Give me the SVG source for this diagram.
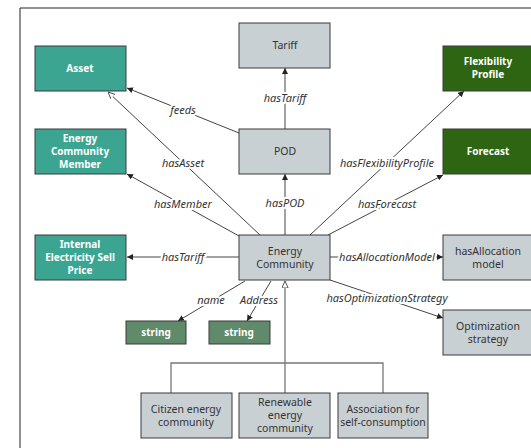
<svg xmlns="http://www.w3.org/2000/svg" width="531" height="448" viewBox="0 0 531 448">
<style>
.n rect{stroke:#3a3a3a;stroke-width:1}
.g rect{fill:#c9d0d3}
.t rect{fill:#3ca592}
.d rect{fill:#2d6512}
.s rect{fill:#5f8b6b}
text{font-family:"Noto Sans","DejaVu Sans",sans-serif;font-size:10.5px;text-anchor:middle}
.g text{fill:#333}
.t text,.d text,.s text{fill:#fff;font-weight:bold;font-size:10px}
.e line{stroke:#444;stroke-width:1}
.h line,.h path{stroke:#777;stroke-width:1.3;fill:none}
.lb{font-style:italic;font-size:11px;fill:#333;stroke:#fff;stroke-width:4;paint-order:stroke;stroke-linejoin:round}
</style>
<defs>
<marker id="a" viewBox="0 0 10 10" refX="10" refY="5" markerWidth="6" markerHeight="6" orient="auto" markerUnits="userSpaceOnUse"><path d="M0,0L10,5L0,10z" fill="#222"/></marker>
<marker id="o" viewBox="0 0 10 10" refX="10" refY="5" markerWidth="7" markerHeight="7" orient="auto" markerUnits="userSpaceOnUse"><path d="M0,0.5L10,5L0,9.5z" fill="#fff" stroke="#444" stroke-width="1.3"/></marker>
</defs>
<rect width="531" height="448" fill="#fff"/>
<path d="M20,448V8H531" fill="none" stroke="#222" stroke-width="1"/>
<g id="connectors">
<g class="h">
<path d="M171,393V363H383V393"/>
<line x1="285" y1="393" x2="285" y2="281" marker-end="url(#o)"/>
</g>
<g class="e">
<line x1="285" y1="129" x2="285" y2="68" marker-end="url(#a)"/>
<line x1="285" y1="235" x2="285" y2="174" marker-end="url(#a)"/>
<line x1="239" y1="133" x2="127" y2="88" marker-end="url(#a)"/>
<line x1="260" y1="235" x2="108" y2="92" marker-end="url(#o)"/>
<line x1="239" y1="236" x2="127" y2="174" marker-end="url(#a)"/>
<line x1="310" y1="235" x2="464" y2="91" marker-end="url(#a)"/>
<line x1="328" y1="235" x2="443" y2="175" marker-end="url(#a)"/>
<line x1="239" y1="257" x2="127" y2="257" marker-end="url(#a)"/>
<line x1="330" y1="257" x2="443" y2="257" marker-end="url(#a)"/>
<line x1="330" y1="280" x2="443" y2="318" marker-end="url(#a)"/>
<line x1="245" y1="281" x2="178" y2="321" marker-end="url(#a)"/>
<line x1="271" y1="281" x2="247" y2="321" marker-end="url(#a)"/>
</g>
<g>
<text class="lb" x="285" y="102">hasTariff</text>
<text class="lb" x="285" y="207">hasPOD</text>
<text class="lb" x="183" y="114">feeds</text>
<text class="lb" x="183" y="167">hasAsset</text>
<text class="lb" x="183" y="208">hasMember</text>
<text class="lb" x="387" y="167">hasFlexibilityProfile</text>
<text class="lb" x="387" y="208">hasForecast</text>
<text class="lb" x="183" y="261">hasTariff</text>
<text class="lb" x="387" y="261">hasAllocationModel</text>
<text class="lb" x="387" y="302">hasOptimizationStrategy</text>
<text class="lb" x="211" y="304">name</text>
<text class="lb" x="259" y="304">Address</text>
</g>
</g>
<g id="asset" class="n t"><rect x="35" y="46" width="91" height="45"/><text x="80" y="72">Asset</text></g>
<g id="member" class="n t"><rect x="35" y="129" width="91" height="45"/><text x="80" y="142">Energy</text><text x="80" y="155">Community</text><text x="80" y="168">Member</text></g>
<g id="sellprice" class="n t"><rect x="35" y="235" width="91" height="45"/><text x="80" y="248">Internal</text><text x="80" y="261">Electricity Sell</text><text x="80" y="274">Price</text></g>
<g id="tariff" class="n g"><rect x="239" y="23" width="91" height="45"/><text x="285" y="49">Tariff</text></g>
<g id="pod" class="n g"><rect x="239" y="129" width="91" height="45"/><text x="285" y="155">POD</text></g>
<g id="ec" class="n g"><rect x="239" y="235" width="91" height="45"/><text x="285" y="255">Energy</text><text x="285" y="268">Community</text></g>
<g id="flex" class="n d"><rect x="443" y="46" width="91" height="45"/><text x="488" y="65">Flexibility</text><text x="488" y="78">Profile</text></g>
<g id="forecast" class="n d"><rect x="443" y="129" width="91" height="45"/><text x="488" y="155">Forecast</text></g>
<g id="alloc" class="n g"><rect x="443" y="235" width="91" height="45"/><text x="488" y="255">hasAllocation</text><text x="488" y="268">model</text></g>
<g id="optim" class="n g"><rect x="443" y="310" width="91" height="45"/><text x="488" y="330">Optimization</text><text x="488" y="343">strategy</text></g>
<g id="string1" class="n s"><rect x="126" y="321" width="60" height="23"/><text x="156" y="336">string</text></g>
<g id="string2" class="n s"><rect x="209" y="321" width="61" height="23"/><text x="239" y="336">string</text></g>
<g id="citizen" class="n g"><rect x="141" y="393" width="91" height="45"/><text x="186" y="413">Citizen energy</text><text x="186" y="426">community</text></g>
<g id="renewable" class="n g"><rect x="239" y="393" width="91" height="45"/><text x="285" y="406">Renewable</text><text x="285" y="419">energy</text><text x="285" y="432">community</text></g>
<g id="association" class="n g"><rect x="338" y="393" width="90" height="45"/><text x="383" y="413">Association for</text><text x="383" y="426">self-consumption</text></g>
</svg>
